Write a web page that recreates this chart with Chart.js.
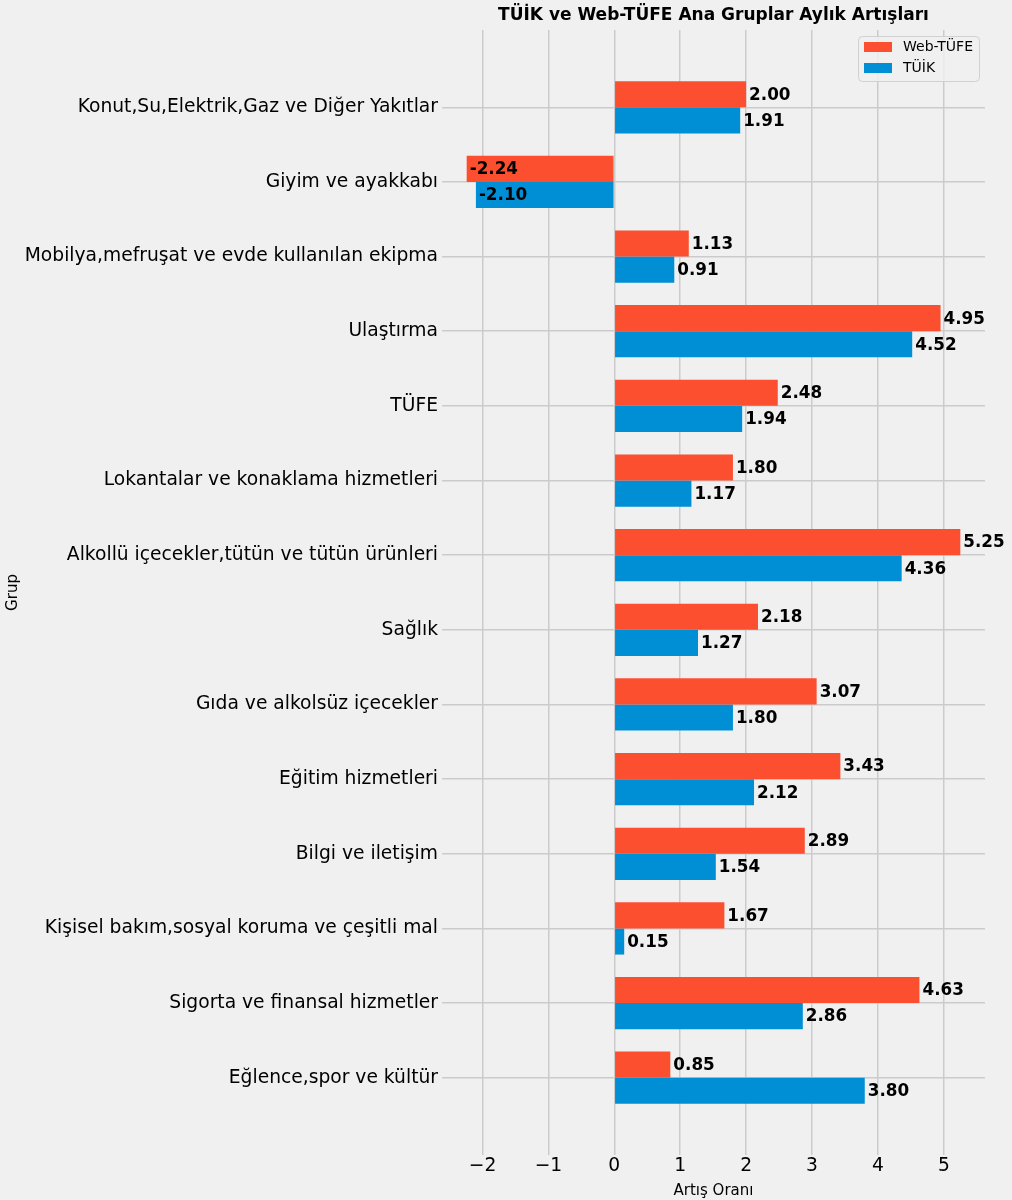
<!DOCTYPE html>
<html>
<head>
<meta charset="utf-8">
<script src="https://cdn.jsdelivr.net/npm/chart.js@4/dist/chart.umd.min.js"></script>
<style>
    html, body { margin: 0; padding: 0; background: #f0f0f0; }
    canvas { display: block; }
</style>
</head>
<body>
<canvas id="groupChart" width="1012" height="1200"></canvas>
<script>
var groups = [
    'Konut,Su,Elektrik,Gaz ve Diğer Yakıtlar',
    'Giyim ve ayakkabı',
    'Mobilya,mefruşat ve evde kullanılan ekipma',
    'Ulaştırma',
    'TÜFE',
    'Lokantalar ve konaklama hizmetleri',
    'Alkollü içecekler,tütün ve tütün ürünleri',
    'Sağlık',
    'Gıda ve alkolsüz içecekler',
    'Eğitim hizmetleri',
    'Bilgi ve iletişim',
    'Kişisel bakım,sosyal koruma ve çeşitli mal',
    'Sigorta ve finansal hizmetler',
    'Eğlence,spor ve kültür'
];
var webTufe = [2.00, -2.24, 1.13, 4.95, 2.48, 1.80, 5.25, 2.18, 3.07, 3.43, 2.89, 1.67, 4.63, 0.85];
var tuik = [1.91, -2.10, 0.91, 4.52, 1.94, 1.17, 4.36, 1.27, 1.80, 2.12, 1.54, 0.15, 2.86, 3.80];
var xTicks = [-2, -1, 0, 1, 2, 3, 4, 5];

var FONT = 'DejaVu Sans';

function toPoints(values) {
    return values.map(function (v, i) { return { x: v, y: i }; });
}

// value labels at the end of each bar
var valueLabels = {
    id: 'valueLabels',
    afterDatasetsDraw: function (chart) {
        var ctx = chart.ctx;
        ctx.save();
        ctx.font = 'bold 16.8px ' + FONT;
        ctx.fillStyle = '#000';
        ctx.textAlign = 'left';
        ctx.textBaseline = 'middle';
        chart.data.datasets.forEach(function (ds, di) {
            chart.getDatasetMeta(di).data.forEach(function (bar, i) {
                var v = ds.data[i].x;
                ctx.fillText(v.toFixed(2), chart.scales.x.getPixelForValue(v) + 3, bar.y + 1);
            });
        });
        ctx.restore();
    }
};

// title over the plot area and legend inside it
var decorations = {
    id: 'decorations',
    afterDraw: function (chart) {
        var ctx = chart.ctx;
        var area = chart.chartArea;
        ctx.save();
        ctx.fillStyle = '#000';
        ctx.font = 'bold 17px ' + FONT;
        ctx.textAlign = 'center';
        ctx.textBaseline = 'middle';
        ctx.fillText('TÜİK ve Web-TÜFE Ana Gruplar Aylık Artışları', (area.left + area.right) / 2, 16);

        ctx.beginPath();
        ctx.roundRect(858.5, 36.5, 121, 45, 4);
        ctx.fillStyle = 'rgba(240,240,240,0.8)';
        ctx.fill();
        ctx.strokeStyle = '#d0d0d0';
        ctx.lineWidth = 1;
        ctx.stroke();

        var items = [['Web-TÜFE', '#fc4f30', 47], ['TÜİK', '#008fd5', 68]];
        ctx.font = '14px ' + FONT;
        ctx.textAlign = 'left';
        items.forEach(function (it) {
            ctx.fillStyle = it[1];
            ctx.fillRect(864, it[2] - 5, 28, 10);
            ctx.fillStyle = '#000';
            ctx.fillText(it[0], 903, it[2]);
        });
        ctx.restore();
    }
};

var groupChart = new Chart(document.getElementById('groupChart').getContext('2d'), {
    type: 'bar',
    data: {
        datasets: [{
            label: 'Web-TÜFE',
            data: toPoints(webTufe),
            backgroundColor: '#fc4f30',
            borderWidth: 0
        }, {
            label: 'TÜİK',
            data: toPoints(tuik),
            backgroundColor: '#008fd5',
            borderWidth: 0
        }]
    },
    options: {
        indexAxis: 'y',
        responsive: false,
        animation: false,
        devicePixelRatio: 1,
        categoryPercentage: 0.7,
        barPercentage: 1.0,
        layout: { padding: { left: 0, right: 27, top: 30, bottom: 0 } },
        plugins: {
            legend: { display: false },
            tooltip: { enabled: false }
        },
        scales: {
            x: {
                type: 'linear',
                min: -2.6145,
                max: 5.6245,
                afterBuildTicks: function (scale) {
                    scale.ticks = xTicks.map(function (v) { return { value: v }; });
                },
                afterFit: function (scale) { scale.height = 45; },
                grid: { color: '#cbcbcb', lineWidth: 1.5, drawTicks: false },
                border: { display: false },
                ticks: {
                    padding: 0,
                    color: '#000',
                    font: { family: FONT, size: 18.7 },
                    callback: function (v) { return v < 0 ? '\u2212' + Math.abs(v) : String(v); }
                },
                title: {
                    display: true,
                    text: 'Artış Oranı',
                    color: '#000',
                    font: { family: FONT, size: 15 },
                    padding: { top: 6, bottom: 0 }
                }
            },
            y: {
                type: 'linear',
                reverse: true,
                offset: false,
                min: -1.035,
                max: 14.035,
                afterBuildTicks: function (scale) {
                    scale.ticks = groups.map(function (g, i) { return { value: i }; });
                },
                afterFit: function (scale) { scale.width = 442; },
                grid: { color: '#cbcbcb', lineWidth: 1.5, drawTicks: false, offset: false },
                border: { display: false },
                ticks: {
                    padding: 4,
                    color: '#000',
                    font: { family: FONT, size: 18.7 },
                    callback: function (v) { return groups[v]; }
                },
                title: {
                    display: true,
                    text: 'Grup',
                    color: '#000',
                    font: { family: FONT, size: 15 },
                    padding: { top: 4, bottom: 0 }
                }
            }
        }
    },
    plugins: [valueLabels, decorations]
});
</script>
</body>
</html>
